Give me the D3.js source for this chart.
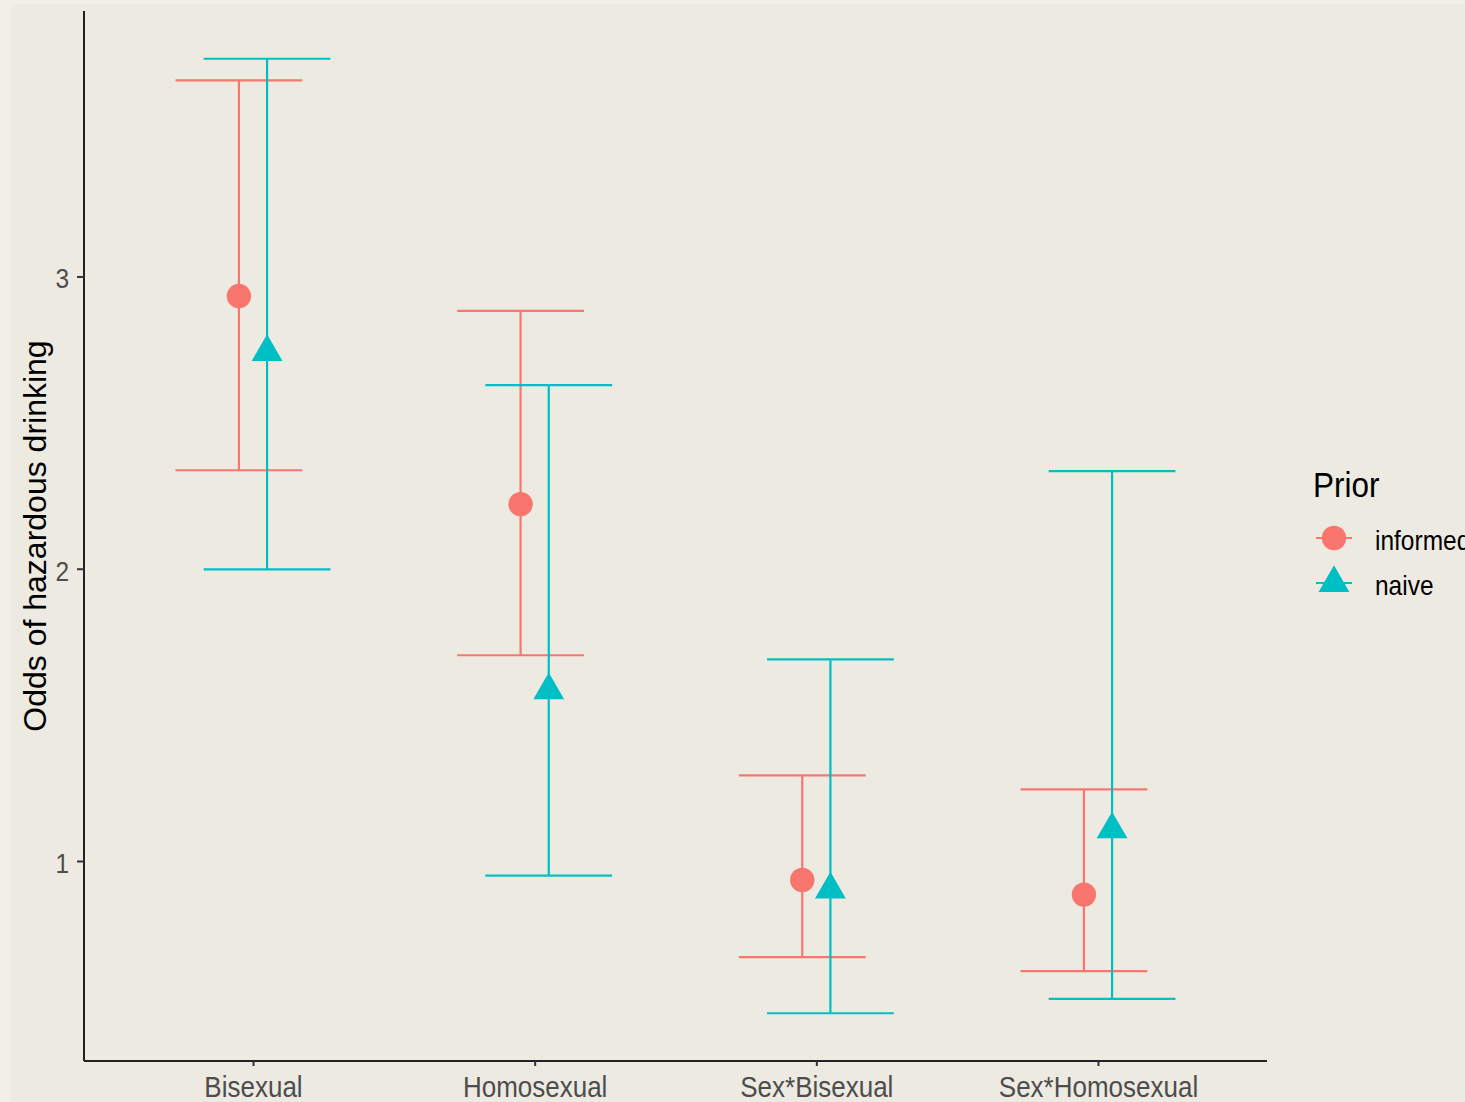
<!DOCTYPE html>
<html>
<head>
<meta charset="utf-8">
<script src="https://cdn.jsdelivr.net/npm/d3@7"></script>
<style>
  html, body { margin: 0; padding: 0; background: #F2EFE8; overflow: hidden; }
  svg { display: block; font-family: "Liberation Sans", Arial, sans-serif; }
</style>
</head>
<body>
<svg id="chart" width="1465" height="1102"></svg>
<script>
// Odds ratios with credible intervals, by term and prior type
const terms = ["Bisexual", "Homosexual", "Sex*Bisexual", "Sex*Homosexual"];
const priors = ["informed", "naive"];
const priorColors = ["#F8766D", "#00BFC4"];

const informedEst   = [2.933, 2.221, 0.935, 0.885];
const informedLower = [2.337, 1.704, 0.671, 0.623];
const informedUpper = [3.671, 2.882, 1.293, 1.245];

const naiveEst   = [2.741, 1.584, 0.902, 1.108];
const naiveLower = [1.998, 0.950, 0.479, 0.528];
const naiveUpper = [3.745, 2.628, 1.690, 2.334];

const yTicks = [1, 2, 3];
const yTitle = "Odds of hazardous drinking";
const legendTitle = "Prior";

// Long-format rows built from the arrays above
const rows = [];
terms.forEach((t, i) => {
  rows.push({ term: t, prior: "informed", est: informedEst[i], lo: informedLower[i], hi: informedUpper[i] });
  rows.push({ term: t, prior: "naive",    est: naiveEst[i],    lo: naiveLower[i],    hi: naiveUpper[i] });
});

const svg = d3.select("#chart");
const W = 1465, H = 1102;

// Plot background
svg.append("rect").attr("x", 11).attr("y", 4).attr("width", W - 11).attr("height", H - 4)
  .attr("fill", "#EDEAE2");

const panel = { left: 84, right: 1267, top: 11, bottom: 1061 };

const x = d3.scalePoint().domain(terms).range([panel.left, panel.right]).padding(0.6);
const step = x.step();

const allVals = rows.flatMap(r => [r.lo, r.hi]);
const yMin = d3.min(allVals), yMax = d3.max(allVals);
const pad = (yMax - yMin) * 0.05;
const y = d3.scaleLinear().domain([yMin - pad, yMax + pad]).range([panel.bottom, panel.top]);

const color = d3.scaleOrdinal().domain(priors).range(priorColors);
const dodge = d3.scaleOrdinal().domain(priors).range([-0.05 * step, 0.05 * step]);
const capHalf = 0.225 * step;

const stretch = 1.12;

// Axes
const yAxis = svg.append("g").attr("transform", `translate(${panel.left},0)`)
  .call(d3.axisLeft(y).tickValues(yTicks).tickFormat(d3.format("d")).tickSize(7).tickPadding(8));
const xAxis = svg.append("g").attr("transform", `translate(0,${panel.bottom})`)
  .call(d3.axisBottom(x).tickSize(5).tickPadding(9));

[yAxis, xAxis].forEach(g => {
  g.select(".domain").attr("stroke", "#222").attr("stroke-width", 2);
  g.selectAll(".tick line").attr("stroke", "#333").attr("stroke-width", 2);
  g.selectAll(".tick text").attr("fill", "#4D4D4D")
    .attr("font-family", "'Liberation Sans', Arial, sans-serif");
});
yAxis.selectAll(".tick text").attr("font-size", 24.5);
xAxis.selectAll(".tick text").attr("font-size", 26);
yAxis.select(".domain").attr("d", `M0,${panel.top}V${panel.bottom}`);
xAxis.select(".domain").attr("d", `M${panel.left},0H${panel.right}`);

yAxis.selectAll(".tick text")
  .attr("dy", null).attr("dominant-baseline", "central")
  .attr("transform", `translate(0,2) scale(1,${stretch})`);
xAxis.selectAll(".tick text")
  .attr("dy", null).attr("y", null)
  .attr("transform", `translate(0,36) scale(1,${stretch})`);

// Y title
svg.append("text")
  .attr("transform", `translate(46,${(panel.top + panel.bottom) / 2}) rotate(-90)`)
  .attr("text-anchor", "middle")
  .attr("font-size", 32)
  .attr("fill", "#000")
  .text(yTitle);

// Error bars
const bars = svg.append("g").selectAll("g").data(rows).join("g")
  .attr("stroke", d => color(d.prior)).attr("stroke-width", 2.2).attr("fill", "none");
bars.append("line")
  .attr("x1", d => x(d.term) + dodge(d.prior)).attr("x2", d => x(d.term) + dodge(d.prior))
  .attr("y1", d => y(d.lo)).attr("y2", d => y(d.hi));
bars.append("line")
  .attr("x1", d => x(d.term) + dodge(d.prior) - capHalf).attr("x2", d => x(d.term) + dodge(d.prior) + capHalf)
  .attr("y1", d => y(d.hi)).attr("y2", d => y(d.hi));
bars.append("line")
  .attr("x1", d => x(d.term) + dodge(d.prior) - capHalf).attr("x2", d => x(d.term) + dodge(d.prior) + capHalf)
  .attr("y1", d => y(d.lo)).attr("y2", d => y(d.lo));

// Point shapes: circle for informed, triangle (centroid-centred) for naive
function triPath(r) {
  const c = Math.cos(Math.PI / 6) * r;
  return `M0,${-r}L${c},${r / 2}L${-c},${r / 2}Z`;
}
function drawPoint(sel, prior) {
  if (prior === "informed") {
    sel.append("circle").attr("r", 12.2).attr("fill", color(prior));
  } else {
    sel.append("path").attr("d", triPath(17.8)).attr("fill", color(prior));
  }
}
svg.append("g").selectAll("g").data(rows).join("g")
  .attr("transform", d => `translate(${x(d.term) + dodge(d.prior)},${y(d.est)})`)
  .each(function (d) { drawPoint(d3.select(this), d.prior); });

// Legend (the panel runs to the right edge, so the longest label is cut by the page edge)
const legend = svg.append("g");
legend.append("text")
  .attr("transform", `translate(1313,497) scale(1,${stretch * 0.98})`)
  .attr("font-size", 31.5).attr("fill", "#000").text(legendTitle);
const keyY = [538, 583];
priors.forEach((p, i) => {
  const g = legend.append("g").attr("transform", `translate(1334,${keyY[i]})`);
  g.append("line").attr("x1", -18).attr("x2", 18).attr("stroke", color(p)).attr("stroke-width", 2.2);
  drawPoint(g, p);
  legend.append("text")
    .attr("transform", `translate(1375,${keyY[i] + 3}) scale(1,${stretch})`)
    .attr("dominant-baseline", "central")
    .attr("font-size", 24.5).attr("fill", "#000").text(p);
});
</script>
</body>
</html>
